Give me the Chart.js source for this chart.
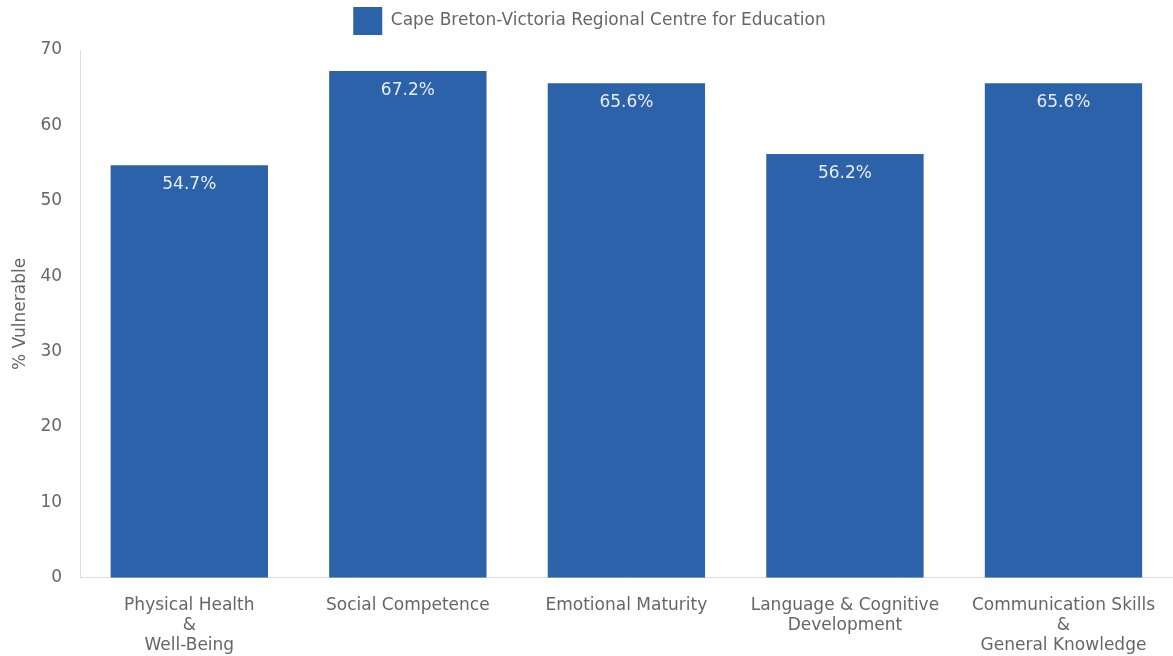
<!DOCTYPE html>
<html>
<head>
<meta charset="utf-8">
<script src="https://cdn.jsdelivr.net/npm/chart.js@4/dist/chart.umd.min.js"></script>
<style>
    html, body { margin: 0; padding: 0; background: #fff; }
    #wrap { width: 1173px; height: 656px; }
</style>
</head>
<body>
<div id="wrap"><canvas id="chart"></canvas></div>
<script>
const categories = [
    ["Physical Health", "&", "Well-Being"],
    ["Social Competence"],
    ["Emotional Maturity"],
    ["Language & Cognitive", "Development"],
    ["Communication Skills", "&", "General Knowledge"]
];
const seriesName = "Cape Breton-Victoria Regional Centre for Education";
const vulnerable = [54.7, 67.2, 65.6, 56.2, 65.6];
const yTicks = [0, 10, 20, 30, 40, 50, 60, 70];

const FONT = "'DejaVu Sans'";

// draws the value inside the top of each bar
const valueLabels = {
    id: "valueLabels",
    afterDatasetsDraw(chart) {
        const ctx = chart.ctx;
        const meta = chart.getDatasetMeta(0);
        ctx.save();
        ctx.font = "17px " + FONT;
        ctx.fillStyle = "#e8ecf4";
        ctx.textAlign = "center";
        ctx.textBaseline = "top";
        meta.data.forEach((bar, i) => {
            ctx.fillText(vulnerable[i].toFixed(1) + "%", bar.x, bar.y + 11);
        });
        ctx.restore();
    }
};

// a little more room under the legend
const legendGap = {
    id: "legendGap",
    beforeInit(chart) {
        const fit = chart.legend.fit;
        chart.legend.fit = function () {
            fit.call(this);
            this.height += 5;
        };
    }
};

new Chart(document.getElementById("chart"), {
    type: "bar",
    data: {
        labels: categories,
        datasets: [{
            label: seriesName,
            data: vulnerable,
            backgroundColor: "#2b62a9",
            borderWidth: 0,
            categoryPercentage: 1,
            barPercentage: 0.72
        }]
    },
    options: {
        responsive: true,
        maintainAspectRatio: false,
        animation: false,
        layout: { padding: { left: 6, right: 0, top: 0, bottom: 0 } },
        plugins: {
            legend: {
                position: "top",
                labels: {
                    boxWidth: 29,
                    boxHeight: 28,
                    color: "#666",
                    font: { family: FONT, size: 17 },
                    padding: 7
                }
            },
            tooltip: { enabled: false }
        },
        scales: {
            y: {
                min: 0,
                max: 70,
                afterBuildTicks: (axis) => { axis.ticks = yTicks.map((v) => ({ value: v })); },
                grid: { display: false, drawTicks: false },
                border: { display: true, color: "#dcdcdc" },
                ticks: {
                    color: "#666",
                    font: { family: FONT, size: 17 },
                    padding: 18
                },
                title: {
                    display: true,
                    text: "% Vulnerable",
                    color: "#666",
                    font: { family: FONT, size: 17 },
                    padding: { top: 4, bottom: 8 }
                },
                afterFit: (axis) => { axis.width -= 16; }
            },
            x: {
                grid: { display: false, drawTicks: false },
                border: { display: true, color: "#dcdcdc" },
                ticks: {
                    color: "#666",
                    font: { family: FONT, size: 17, lineHeight: 1.18 },
                    maxRotation: 0,
                    autoSkip: false,
                    padding: 18
                },
                afterFit: (axis) => { axis.height -= 18; }
            }
        }
    },
    plugins: [valueLabels, legendGap]
});
</script>
</body>
</html>
